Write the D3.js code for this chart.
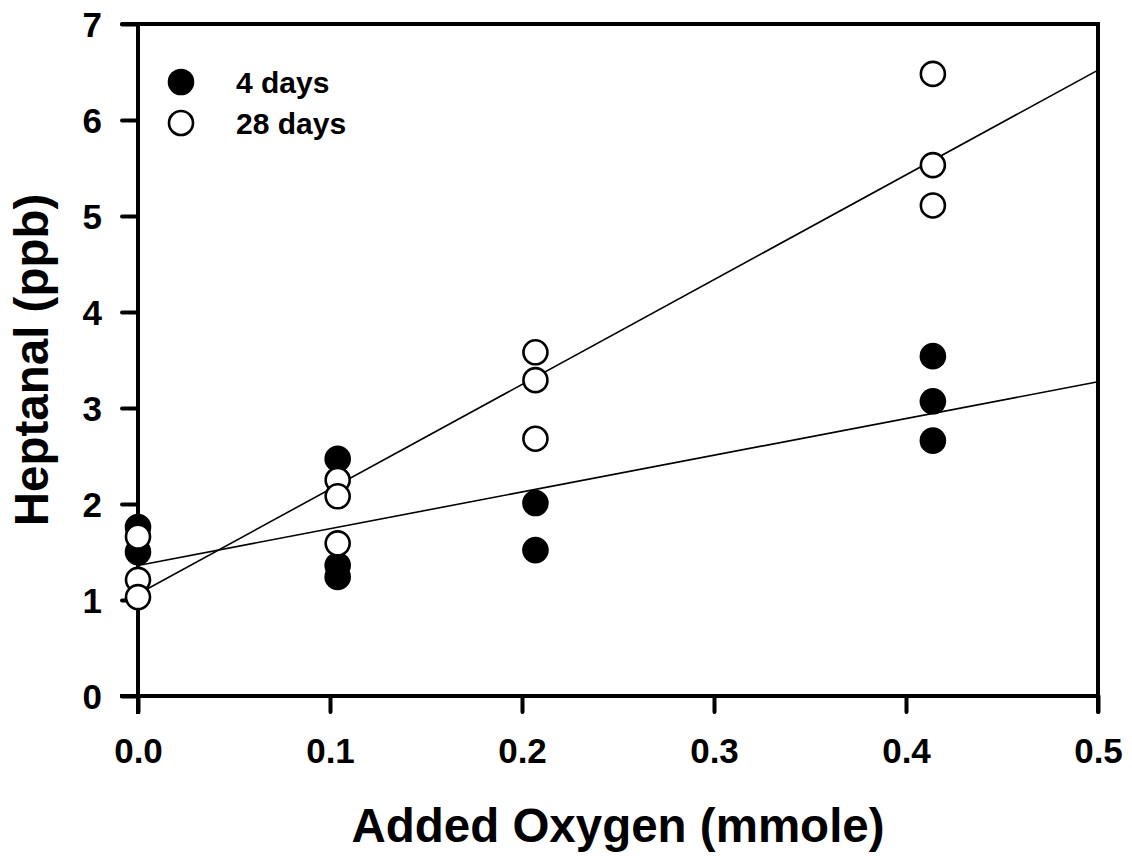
<!DOCTYPE html>
<html>
<head>
<meta charset="utf-8">
<script src="https://cdn.jsdelivr.net/npm/d3@7"></script>
<style>
  html, body { margin: 0; padding: 0; background: #fff; }
  svg { display: block; }
  text { font-family: "Liberation Sans", Arial, sans-serif; font-weight: bold; fill: #000; }
</style>
</head>
<body>
<svg id="chart" width="1132" height="856"></svg>
<script>
// Oxygen dose levels (mmole) and heptanal replicates (ppb) at each level
const oxygenLevels = [0, 0.104, 0.207, 0.414];
const heptanal4Days = [[1.76, 1.50], [2.47, 1.36, 1.24], [2.01, 1.52], [3.54, 3.07, 2.66]];
const heptanal28Days = [[1.66, 1.21, 1.03], [2.25, 2.08, 1.59], [3.58, 3.29, 2.68], [6.48, 5.53, 5.11]];
const seriesNames = ["4 days", "28 days"];
const xTicks = [0, 0.1, 0.2, 0.3, 0.4, 0.5];
const yTicks = [0, 1, 2, 3, 4, 5, 6, 7];

const svg = d3.select("#chart");
const plotLeft = 138, plotRight = 1098, plotTop = 24, plotBottom = 696;
const x = d3.scaleLinear().domain([0, 0.5]).range([plotLeft, plotRight]);
const y = d3.scaleLinear().domain([0, 7]).range([plotBottom, plotTop]);

function toPoints(groups) {
  const pts = [];
  groups.forEach((vals, i) => vals.forEach(v => pts.push({ x: oxygenLevels[i], y: v })));
  return pts;
}
const pts4 = toPoints(heptanal4Days);
const pts28 = toPoints(heptanal28Days);

// least-squares fit for each series
function fit(pts) {
  const mx = d3.mean(pts, d => d.x), my = d3.mean(pts, d => d.y);
  const sxy = d3.sum(pts, d => (d.x - mx) * (d.y - my));
  const sxx = d3.sum(pts, d => (d.x - mx) ** 2);
  const b = sxy / sxx;
  return { a: my - b * mx, b };
}

// frame: top and right edges
svg.append("path")
  .attr("d", `M${plotLeft - 16},${plotTop}H${plotRight}V${plotBottom + 16}`)
  .attr("fill", "none").attr("stroke", "#000").attr("stroke-width", 4)
  .attr("stroke-linecap", "round").attr("stroke-linejoin", "miter");

// axes
const xAxis = svg.append("g").attr("transform", `translate(0,${plotBottom})`)
  .call(d3.axisBottom(x).tickValues(xTicks).tickFormat(d3.format(".1f")).tickSize(16).tickSizeOuter(0).tickPadding(26));
const yAxis = svg.append("g").attr("transform", `translate(${plotLeft},0)`)
  .call(d3.axisLeft(y).tickValues(yTicks).tickFormat(d3.format("d")).tickSize(16).tickSizeOuter(0).tickPadding(20));

[xAxis, yAxis].forEach(g => {
  g.select(".domain").attr("stroke", "#000").attr("stroke-width", 4).attr("stroke-linecap", "square");
  g.selectAll(".tick line").attr("stroke", "#000").attr("stroke-width", 4).attr("stroke-linecap", "round");
  g.selectAll(".tick text").attr("font-size", 35).attr("font-family", "Liberation Sans, Arial, sans-serif").attr("font-weight", "bold").attr("fill", "#000");
});
xAxis.select(".domain").attr("d", `M${plotLeft - 16},0H${plotRight}`);
yAxis.select(".domain").attr("d", `M0,${plotTop}V${plotBottom + 16}`);
yAxis.selectAll(".tick text").attr("dy", "0.35em");

// regression lines
const lineG = svg.append("g");
[pts4, pts28].forEach(p => {
  const f = fit(p);
  lineG.append("line")
    .attr("x1", x(0)).attr("y1", y(f.a))
    .attr("x2", x(0.5)).attr("y2", y(f.a + f.b * 0.5))
    .attr("stroke", "#000").attr("stroke-width", 1.6);
});

// points: 4 days filled, 28 days open (drawn on top)
svg.append("g").selectAll("circle").data(pts4).join("circle")
  .attr("cx", d => x(d.x)).attr("cy", d => y(d.y)).attr("r", 13.3)
  .attr("fill", "#000");
svg.append("g").selectAll("circle").data(pts28).join("circle")
  .attr("cx", d => x(d.x)).attr("cy", d => y(d.y)).attr("r", 12)
  .attr("fill", "#fff").attr("stroke", "#000").attr("stroke-width", 2.6);

// legend
const legend = svg.append("g");
seriesNames.forEach((name, i) => {
  const cy = 82 + i * 41;
  legend.append("circle").attr("cx", 181).attr("cy", cy)
    .attr("r", i === 0 ? 13.3 : 12)
    .attr("fill", i === 0 ? "#000" : "#fff")
    .attr("stroke", i === 0 ? "none" : "#000").attr("stroke-width", 2.6);
  legend.append("text").attr("x", 236).attr("y", cy + 11)
    .attr("font-size", 30).text(name);
});

// axis titles
svg.append("text").attr("x", (plotLeft + plotRight) / 2).attr("y", 842)
  .attr("text-anchor", "middle").attr("font-size", 47.5).text("Added Oxygen (mmole)");
svg.append("text").attr("transform", `translate(48,${(plotTop + plotBottom) / 2}) rotate(-90)`)
  .attr("text-anchor", "middle").attr("font-size", 47.5).text("Heptanal (ppb)");
</script>
</body>
</html>
